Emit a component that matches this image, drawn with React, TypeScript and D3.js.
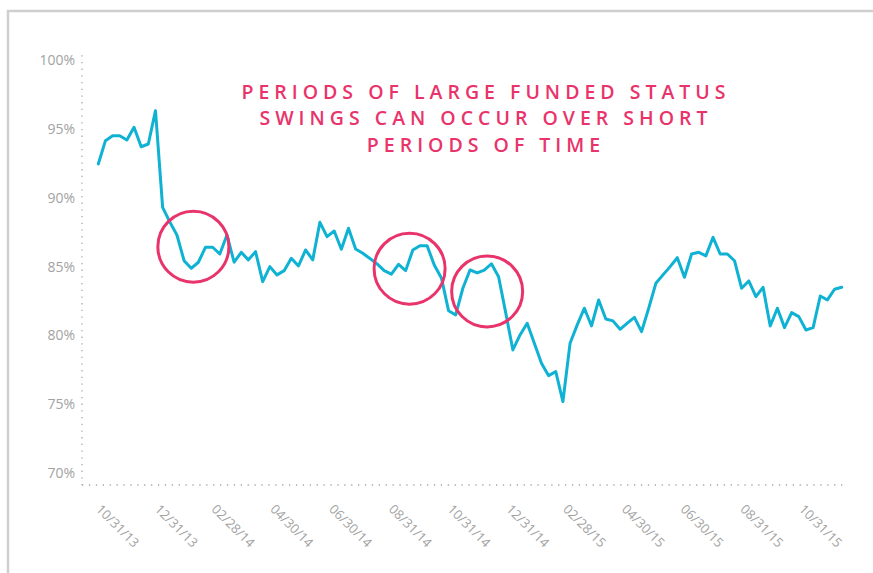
import React from 'react';
import * as d3 from 'd3';

const WIDTH = 873;
const HEIGHT = 573;
const LINE_COLOR = "#10b2d4";
const PINK = "#e9336b";
const GRAY = "#a2a2a2";

// funded status, one point per period, 10/31/13 -> mid Dec 2015
const VALUES = [
    92.45, 94.14, 94.5, 94.5, 94.19, 95.11, 93.7, 93.9, 96.32, 89.3,
    88.24, 87.29, 85.42, 84.87, 85.31, 86.4, 86.4, 85.91, 87.29, 85.31,
    86.03, 85.48, 86.08, 83.9, 84.99, 84.39, 84.7, 85.6, 85.04, 86.2,
    85.48, 88.21, 87.17, 87.58, 86.25, 87.78, 86.27, 85.96, 85.58, 85.19,
    84.7, 84.44, 85.16, 84.7, 86.2, 86.51, 86.51, 85.11, 84.17, 81.79,
    81.48, 83.42, 84.75, 84.53, 84.73, 85.2, 84.26, 81.63, 78.94, 80.03,
    80.88, 79.43, 77.97, 77.07, 77.36, 75.19, 79.43, 80.76, 81.97, 80.68,
    82.57, 81.19, 81.05, 80.44, 80.88, 81.31, 80.27, 81.97, 83.78, 84.39,
    84.99, 85.64, 84.22, 85.91, 86.03, 85.77, 87.12, 85.91, 85.91, 85.42,
    83.42, 83.95, 82.81, 83.49, 80.68, 81.97, 80.56, 81.65, 81.36, 80.39,
    80.56, 82.86, 82.57, 83.35, 83.49,
];
const START_DATE = "10/31/13";
const END_DATE = "12/12/15";
const X_TICKS = [
    "10/31/13", "12/31/13", "02/28/14", "04/30/14", "06/30/14", "08/31/14", "10/31/14",
    "12/31/14", "02/28/15", "04/30/15", "06/30/15", "08/31/15", "10/31/15",
];
const Y_TICKS = [70, 75, 80, 85, 90, 95, 100];

// circled periods: point index and value at the centre
const HIGHLIGHT_INDEX = [13.3, 43.55, 54.4];
const HIGHLIGHT_VALUE = [86.44, 84.84, 83.19];

const TITLE = ["PERIODS OF LARGE FUNDED STATUS", "SWINGS CAN OCCUR OVER SHORT", "PERIODS OF TIME"];

const parse = d3.timeParse("%m/%d/%y");

export default function App() {
    const start = parse(START_DATE) as Date;
    const end = parse(END_DATE) as Date;
    const step = (end.getTime() - start.getTime()) / (VALUES.length - 1);
    const dateAt = (i: number) => new Date(start.getTime() + i * step);

    const x = d3.scaleTime().domain([start, end]).range([98.3, 841.7]);
    const y = d3.scaleLinear().domain([70, 100]).range([473, 60]);

    const line = d3.line<number>()
        .x((_, i) => x(dateAt(i)))
        .y(d => y(d));

    const axisBottom = y(69.13);
    const labelFont = "'Open Sans', Lato, sans-serif";

    return (
        <svg width={WIDTH} height={HEIGHT} style={{ position: "absolute", left: 0, top: 0, background: "#fff" }}>
            <path d={`M8,${HEIGHT} L8,11 L${WIDTH},11`} fill="none" stroke="#cfcfcf" strokeWidth={2.5} />

            {/* axes */}
            <line x1={82} x2={82} y1={y(100.35)} y2={axisBottom} stroke="#a8a8a8" strokeWidth={1.3} strokeDasharray="1.3,5.4" />
            <line x1={82} x2={847} y1={axisBottom} y2={axisBottom} stroke="#a8a8a8" strokeWidth={1.3} strokeDasharray="1.3,5.6" />

            {Y_TICKS.map(t => (
                <text key={t} x={75} y={y(t)} dy="0.36em" textAnchor="end" fill={GRAY}
                    style={{ fontFamily: labelFont, fontSize: 14, fontWeight: 400 }}>
                    {t}%
                </text>
            ))}

            {X_TICKS.map(t => {
                const px = x(parse(t) as Date);
                return (
                    <text key={t} transform={`translate(${px - 3},510) rotate(45)`} fill={GRAY}
                        style={{ fontFamily: labelFont, fontSize: 13, fontWeight: 400 }}>
                        {t}
                    </text>
                );
            })}

            <path d={line(VALUES) ?? ""} fill="none" stroke={LINE_COLOR} strokeWidth={3} strokeLinejoin="round" strokeLinecap="round" />

            {HIGHLIGHT_INDEX.map((idx, i) => (
                <circle key={i} cx={x(dateAt(idx))} cy={y(HIGHLIGHT_VALUE[i])} r={35.5}
                    fill="none" stroke={PINK} strokeWidth={3} />
            ))}

            {TITLE.map((t, i) => (
                <text key={i} x={486} y={99 + i * 26.3} textAnchor="middle" fill={PINK}
                    style={{ fontFamily: "'Open Sans', sans-serif", fontSize: 19.5, fontWeight: 600, letterSpacing: 5 }}>
                    {t}
                </text>
            ))}
        </svg>
    );
}
